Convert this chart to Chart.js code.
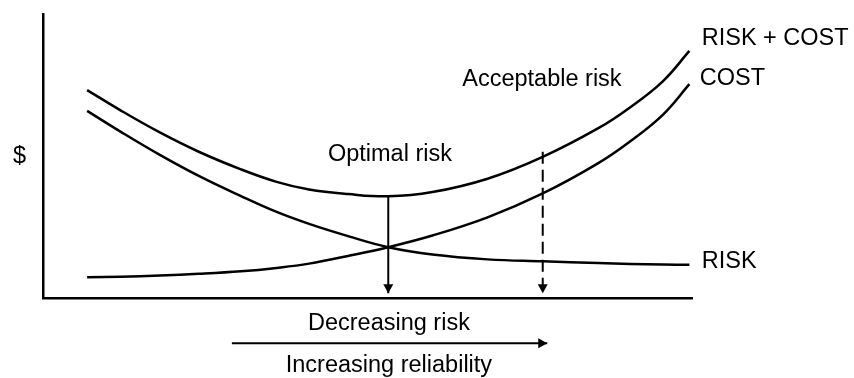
<!DOCTYPE html>
<html>
<head>
<meta charset="utf-8">
<script src="https://cdn.jsdelivr.net/npm/chart.js@4/dist/chart.umd.min.js"></script>
<style>
  html, body { margin: 0; padding: 0; background: #fff; }
  #chart { display: block; }
</style>
</head>
<body>
<canvas id="chart" width="854" height="378"></canvas>
<script>
// reliability axis (0..100) and $ axis (0..100)
const xValues    = [6.8, 12, 18, 24, 30.5, 36, 41, 47, 53.2, 60, 68.5, 77, 85.5, 90.5, 95.5, 99.6];
const riskValues = [65.9, 58.5, 50.4, 43.0, 35.9, 30.3, 26.1, 21.8, 17.9, 15.3, 13.6, 12.9, 12.3, 12.0, 11.8, 11.7];
const costValues = [7.3, 7.5, 7.9, 8.5, 9.4, 10.6, 12.1, 14.8, 17.9, 22.0, 28.4, 36.8, 47.4, 55.2, 64.5, 75.3];
const totalValues = [73.2, 66.0, 58.3, 51.5, 45.3, 40.9, 38.2, 36.6, 35.8, 37.3, 42.0, 49.7, 59.7, 67.2, 76.3, 87.0];

// arrows
const optimalX = 53.2;
const optimalTop = 35.8;
const acceptableX = 77;
const acceptableTop = 51.5;
const arrowTipY = 1.65;
const bottomArrowX = [29.1, 77.7];
const bottomArrowY = -15.95;

// text labels
const labelTexts = ['$', 'Optimal risk', 'Acceptable risk', 'RISK + COST', 'COST', 'RISK', 'Decreasing risk', 'Increasing reliability'];
const labelX     = [-4.62, 43.9, 64.6, 101.5, 101.2, 101.5, 53.3, 53.3];
const labelY     = [47.5, 48.4, 74.5, 89.1, 75, 10.4, -11.3, -26.2];
const labelAlign = ['left', 'left', 'left', 'left', 'left', 'left', 'center', 'center'];

const FONT = '23.5px "Liberation Sans", Arial, Helvetica, sans-serif';

function toPoints(ys) {
    return xValues.map((x, i) => ({ x: x, y: ys[i] }));
}

function curve(label, ys) {
    return {
        label: label,
        data: toPoints(ys),
        borderColor: '#000',
        borderWidth: 2.5,
        pointRadius: 0,
        tension: 0.4,
        clip: false
    };
}

function arrowLine(label, pts, dash) {
    return {
        label: label,
        data: pts,
        borderColor: '#000',
        borderWidth: 2,
        borderDash: dash || [],
        pointRadius: 0,
        tension: 0,
        clip: false,
        arrow: true
    };
}

const arrowHeads = {
    id: 'arrowHeads',
    afterDatasetsDraw(chart) {
        const ctx = chart.ctx;
        chart.data.datasets.forEach((ds, i) => {
            if (!ds.arrow) return;
            const pts = chart.getDatasetMeta(i).data;
            const a = pts[pts.length - 2], b = pts[pts.length - 1];
            const ang = Math.atan2(b.y - a.y, b.x - a.x);
            const len = 9, half = 5;
            const bx = b.x - len * Math.cos(ang), by = b.y - len * Math.sin(ang);
            ctx.save();
            ctx.fillStyle = '#000';
            ctx.beginPath();
            ctx.moveTo(b.x, b.y);
            ctx.lineTo(bx + half * Math.sin(ang), by - half * Math.cos(ang));
            ctx.lineTo(bx - half * Math.sin(ang), by + half * Math.cos(ang));
            ctx.closePath();
            ctx.fill();
            ctx.restore();
        });
    }
};

const textLabels = {
    id: 'textLabels',
    afterDraw(chart) {
        const ctx = chart.ctx;
        const xs = chart.scales.x, ys = chart.scales.y;
        ctx.save();
        ctx.font = FONT;
        ctx.fillStyle = '#000';
        ctx.textBaseline = 'alphabetic';
        labelTexts.forEach((t, i) => {
            ctx.textAlign = labelAlign[i];
            ctx.fillText(t, xs.getPixelForValue(labelX[i]), ys.getPixelForValue(labelY[i]));
        });
        ctx.restore();
    }
};

new Chart(document.getElementById('chart'), {
    type: 'line',
    data: {
        datasets: [
            curve('RISK + COST', totalValues),
            curve('COST', costValues),
            curve('RISK', riskValues),
            arrowLine('optimal', [{ x: optimalX, y: optimalTop }, { x: optimalX, y: arrowTipY }]),
            arrowLine('acceptable', [{ x: acceptableX, y: acceptableTop }, { x: acceptableX, y: arrowTipY }], [12, 6]),
            arrowLine('reliability', [{ x: bottomArrowX[0], y: bottomArrowY }, { x: bottomArrowX[1], y: bottomArrowY }])
        ]
    },
    options: {
        responsive: false,
        animation: false,
        layout: { padding: { left: 43, right: 162, top: 14, bottom: 80 } },
        plugins: {
            legend: { display: false },
            tooltip: { enabled: false }
        },
        scales: {
            x: {
                type: 'linear',
                min: 0,
                max: 100,
                ticks: { display: false },
                grid: { display: false, drawTicks: false },
                border: { display: true, color: '#000', width: 2.5 }
            },
            y: {
                type: 'linear',
                min: 0,
                max: 100,
                ticks: { display: false },
                grid: { display: false, drawTicks: false },
                border: { display: true, color: '#000', width: 2.5 }
            }
        }
    },
    plugins: [arrowHeads, textLabels]
});
</script>
</body>
</html>
